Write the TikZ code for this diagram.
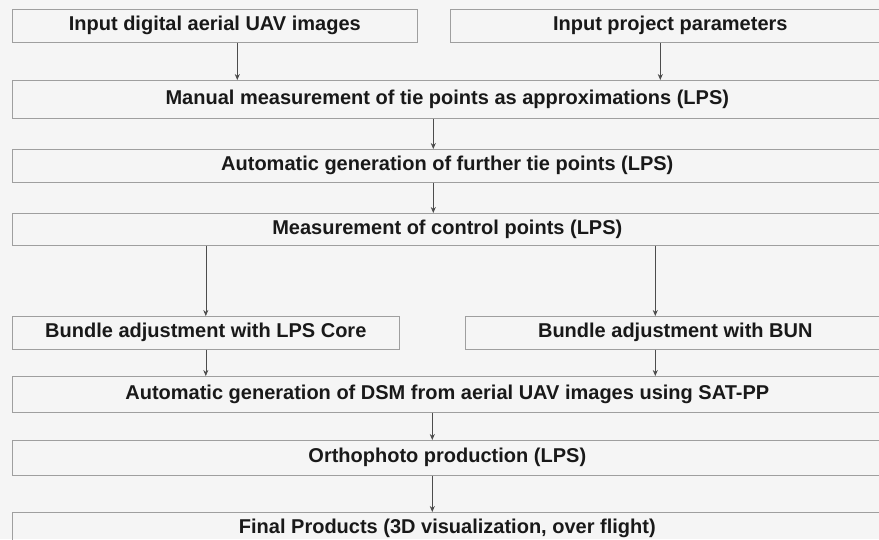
\documentclass[tikz,border=0pt]{standalone}
\usepackage{fontspec}
\setmainfont{Liberation Sans}
\usetikzlibrary{positioning,arrows.meta}

\begin{document}
\begin{tikzpicture}[x=1pt,y=-1pt,
    stage/.style={draw=gray!75,line width=0.6pt,inner sep=0,anchor=north west,
      minimum height=33,font=\bfseries\fontsize{20}{23}\selectfont,text=black!90},
    flow/.style={draw=black!70,line width=0.6pt,-{Stealth[length=6pt,width=5pt]}}]
  % page of the scanned figure, boxes run off its right and bottom edge
  \fill[black!4] (0,0) rectangle (879,539);
  \clip (0,0) rectangle (879,539);

  \node (imgs)    [stage,minimum width=405] at (12,9)   {Input digital aerial UAV images};
  \node (params)  [stage,minimum width=440] at (450,9)  {Input project parameters};
  \node (manual)  [stage,minimum width=870,minimum height=38] at (12,80)
    {Manual measurement of tie points as approximations (LPS)};
  \node (tiep)    [stage,minimum width=870] at (12,149) {Automatic generation of further tie points (LPS)};
  \node (ctrl)    [stage,minimum width=870,minimum height=32] at (12,213)
    {Measurement of control points (LPS)};
  \node (lpscore) [stage,minimum width=387] at (12,316) {Bundle adjustment with LPS Core};
  \node (bun)     [stage,minimum width=420] at (465,316) {Bundle adjustment with BUN};
  \node (dsm)     [stage,minimum width=870,minimum height=36] at (12,376)
    {Automatic generation of DSM from aerial UAV images using SAT-PP};
  \node (ortho)   [stage,minimum width=870,minimum height=35] at (12,440)
    {Orthophoto production (LPS)};
  \node (final)   [stage,minimum width=870,minimum height=33] at (12,512)
    {Final Products (3D visualization, over flight)};

  \draw [flow] ([xshift=22.5]imgs.south) -- ([xshift=22.5]imgs.south |- manual.north);
  \draw [flow] ([xshift=-10]params.south) -- ([xshift=-10]params.south |- manual.north);
  \draw [flow] ([xshift=-14]manual.south) -- ([xshift=-14]manual.south |- tiep.north);
  \draw [flow] ([xshift=-14]tiep.south) -- ([xshift=-14]tiep.south |- ctrl.north);
  \draw [flow] (lpscore.north |- ctrl.south) -- (lpscore.north);
  \draw [flow] ([xshift=-20]bun.north |- ctrl.south) -- ([xshift=-20]bun.north);
  \draw [flow] (lpscore.south) -- (lpscore.south |- dsm.north);
  \draw [flow] ([xshift=-20]bun.south) -- ([xshift=-20]bun.south |- dsm.north);
  \draw [flow] ([xshift=-15]dsm.south) -- ([xshift=-15]dsm.south |- ortho.north);
  \draw [flow] ([xshift=-15]ortho.south) -- ([xshift=-15]ortho.south |- final.north);
\end{tikzpicture}
\end{document}
